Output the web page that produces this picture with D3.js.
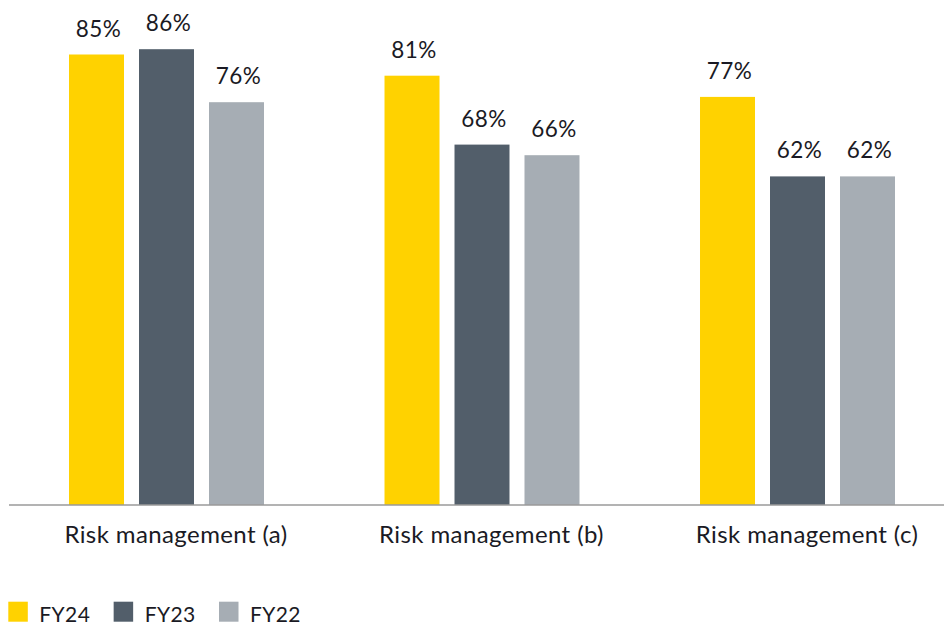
<!DOCTYPE html>
<html>
<head>
<meta charset="utf-8">
<script src="https://cdn.jsdelivr.net/npm/d3@7/dist/d3.min.js"></script>
<style>
  html, body { margin: 0; padding: 0; background: #fff; }
  svg { display: block; }
  text { font-family: Lato, "Open Sans", sans-serif; font-weight: 400; fill: #1a1a24; }
</style>
</head>
<body>
<svg id="chart" width="944" height="626"></svg>
<script>
// Survey results by category and fiscal year
const categories = ["Risk management (a)", "Risk management (b)", "Risk management (c)"];
const seriesNames = ["FY24", "FY23", "FY22"];
const fy24 = [85, 81, 77];
const fy23 = [86, 68, 62];
const fy22 = [76, 66, 62];
const seriesValues = [fy24, fy23, fy22];
const colors = ["#ffd200", "#525e6a", "#a6adb4"];

const svg = d3.select("#chart");
const baseline = 505;

const x0 = d3.scaleBand().domain(categories).range([8.75, 955.25]).padding(0);
const x1 = d3.scaleBand().domain(seriesNames).range([0, x0.bandwidth()])
  .paddingInner(15 / 70).paddingOuter(0.861);
const y = d3.scaleLinear().domain([0, 100]).range([baseline, -25]);
const color = d3.scaleOrdinal().domain(seriesNames).range(colors);

const rows = categories.map((c, i) => ({
  category: c,
  values: seriesNames.map((s, j) => ({ series: s, value: seriesValues[j][i] }))
}));

const groups = svg.append("g").selectAll("g")
  .data(rows).join("g")
  .attr("transform", d => `translate(${x0(d.category)},0)`);

groups.selectAll("rect")
  .data(d => d.values).join("rect")
  .attr("x", d => x1(d.series))
  .attr("y", d => y(d.value))
  .attr("width", x1.bandwidth())
  .attr("height", d => y(0) - y(d.value))
  .attr("fill", d => color(d.series));

groups.selectAll("text.value")
  .data(d => d.values).join("text")
  .attr("class", "value")
  .attr("x", d => x1(d.series) + x1.bandwidth() / 2 + 2)
  .attr("y", d => y(d.value) - 18)
  .attr("text-anchor", "middle")
  .style("font-size", "22.5px")
  .style("letter-spacing", "0.4px")
  .text(d => d.value + "%");

// Category axis
const axis = svg.append("g")
  .attr("transform", `translate(0,${baseline})`)
  .call(d3.axisBottom(x0).tickSize(0).tickPadding(0));
axis.select(".domain").remove();
axis.append("line")
  .attr("x1", 9).attr("x2", 944)
  .attr("stroke", "#9a9a9a").attr("stroke-width", 1.5);
axis.selectAll(".tick text")
  .attr("dx", 9.5)
  .attr("y", 38.3)
  .attr("dy", 0)
  .style("font-size", "24px")
  .style("letter-spacing", "0.4px")
  .style("font-family", "Lato, 'Open Sans', sans-serif")
  .style("font-weight", 400)
  .attr("fill", "#1a1a24");

// Legend
const legendX = d3.scalePoint().domain(seriesNames).range([8.3, 219]);
const legend = svg.append("g").selectAll("g")
  .data(seriesNames).join("g")
  .attr("transform", d => `translate(${legendX(d)},601.7)`);
legend.append("rect")
  .attr("width", 19.5).attr("height", 20)
  .attr("fill", d => color(d));
legend.append("text")
  .attr("x", 31)
  .attr("y", 20)
  .style("font-size", "21px")
  .style("letter-spacing", "0.4px")
  .text(d => d);
</script>
</body>
</html>
